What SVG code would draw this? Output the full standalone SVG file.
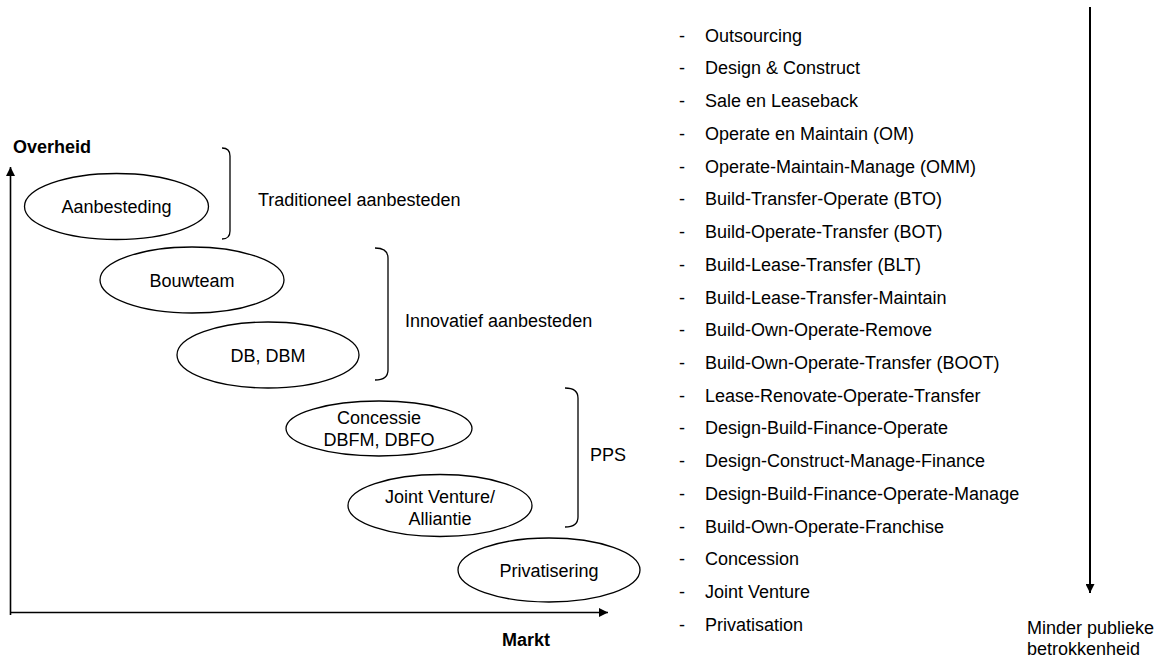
<svg xmlns="http://www.w3.org/2000/svg" width="1169" height="659" viewBox="0 0 1169 659">
  <style>
    text { font-family: "Liberation Sans", Arial, sans-serif; font-size: 18px; fill: #000; }
    .bold { font-weight: bold; }
    .mid { text-anchor: middle; }
    .node ellipse { fill: #fff; stroke: #000; stroke-width: 1.3; }
    .bracket { fill: none; stroke: #000; stroke-width: 1.3; }
    .axis { fill: none; stroke: #000; stroke-width: 1.6; }
  </style>
  <defs>
    <marker id="head" viewBox="0 0 10 10" refX="10" refY="5" markerWidth="10" markerHeight="9" markerUnits="userSpaceOnUse" orient="auto">
      <path d="M0,0 L10,5 L0,10 Z" fill="#000"/>
    </marker>
  </defs>
  <rect width="1169" height="659" fill="#fff"/>

  <!-- axes and the trend arrow -->
  <g id="connectors">
    <path class="axis" d="M10.5,615 L10.5,167" marker-end="url(#head)"/>
    <path class="axis" d="M10,612.5 L608,612.5" marker-end="url(#head)"/>
    <path d="M1090,7 L1090,593" fill="none" stroke="#000" stroke-width="2" marker-end="url(#head)"/>
  </g>

  <text class="bold" x="13" y="153">Overheid</text>
  <text class="bold" x="502" y="646">Markt</text>

  <!-- forms of tendering -->
  <g id="aanbesteding" class="node">
    <ellipse cx="116.5" cy="206.5" rx="92" ry="33"/>
    <text class="mid" x="116.5" y="213">Aanbesteding</text>
  </g>
  <g id="bouwteam" class="node">
    <ellipse cx="192" cy="280" rx="92" ry="33"/>
    <text class="mid" x="192" y="287">Bouwteam</text>
  </g>
  <g id="db-dbm" class="node">
    <ellipse cx="268" cy="355" rx="91" ry="33"/>
    <text class="mid" x="268" y="362">DB, DBM</text>
  </g>
  <g id="concessie" class="node">
    <ellipse cx="379" cy="428.5" rx="93" ry="27.5"/>
    <text class="mid" x="379" y="424">Concessie</text>
    <text class="mid" x="379" y="446">DBFM, DBFO</text>
  </g>
  <g id="joint-venture" class="node">
    <ellipse cx="440" cy="505.5" rx="92" ry="31"/>
    <text class="mid" x="440" y="503">Joint Venture/</text>
    <text class="mid" x="440" y="525">Alliantie</text>
  </g>
  <g id="privatisering" class="node">
    <ellipse cx="549" cy="570" rx="91" ry="32"/>
    <text class="mid" x="549" y="577">Privatisering</text>
  </g>

  <!-- group brackets -->
  <g id="traditioneel">
    <path class="bracket" d="M222,148 Q230,148 230,156 L230,231 Q230,239 222,239"/>
    <text x="258" y="206">Traditioneel aanbesteden</text>
  </g>
  <g id="innovatief">
    <path class="bracket" d="M375,248 Q388,248 388,258 L388,370 Q388,380 375,380"/>
    <text x="405" y="327">Innovatief aanbesteden</text>
  </g>
  <g id="pps">
    <path class="bracket" d="M565,388 Q578,388 578,398 L578,517 Q578,527 565,527"/>
    <text x="590" y="461">PPS</text>
  </g>

  <!-- contract forms, decreasing public involvement -->
  <g id="contract-list">
    <text x="679" y="41.7">-</text><text x="705" y="41.7">Outsourcing</text>
    <text x="679" y="74.4">-</text><text x="705" y="74.4">Design &amp; Construct</text>
    <text x="679" y="107.1">-</text><text x="705" y="107.1">Sale en Leaseback</text>
    <text x="679" y="139.9">-</text><text x="705" y="139.9">Operate en Maintain (OM)</text>
    <text x="679" y="172.6">-</text><text x="705" y="172.6">Operate-Maintain-Manage (OMM)</text>
    <text x="679" y="205.3">-</text><text x="705" y="205.3">Build-Transfer-Operate (BTO)</text>
    <text x="679" y="238.0">-</text><text x="705" y="238.0">Build-Operate-Transfer (BOT)</text>
    <text x="679" y="270.7">-</text><text x="705" y="270.7">Build-Lease-Transfer (BLT)</text>
    <text x="679" y="303.5">-</text><text x="705" y="303.5">Build-Lease-Transfer-Maintain</text>
    <text x="679" y="336.2">-</text><text x="705" y="336.2">Build-Own-Operate-Remove</text>
    <text x="679" y="368.9">-</text><text x="705" y="368.9">Build-Own-Operate-Transfer (BOOT)</text>
    <text x="679" y="401.6">-</text><text x="705" y="401.6">Lease-Renovate-Operate-Transfer</text>
    <text x="679" y="434.3">-</text><text x="705" y="434.3">Design-Build-Finance-Operate</text>
    <text x="679" y="467.1">-</text><text x="705" y="467.1">Design-Construct-Manage-Finance</text>
    <text x="679" y="499.8">-</text><text x="705" y="499.8">Design-Build-Finance-Operate-Manage</text>
    <text x="679" y="532.5">-</text><text x="705" y="532.5">Build-Own-Operate-Franchise</text>
    <text x="679" y="565.2">-</text><text x="705" y="565.2">Concession</text>
    <text x="679" y="597.9">-</text><text x="705" y="597.9">Joint Venture</text>
    <text x="679" y="630.7">-</text><text x="705" y="630.7">Privatisation</text>
  </g>

  <text x="1027" y="634">Minder publieke</text>
  <text x="1027" y="655">betrokkenheid</text>
</svg>
